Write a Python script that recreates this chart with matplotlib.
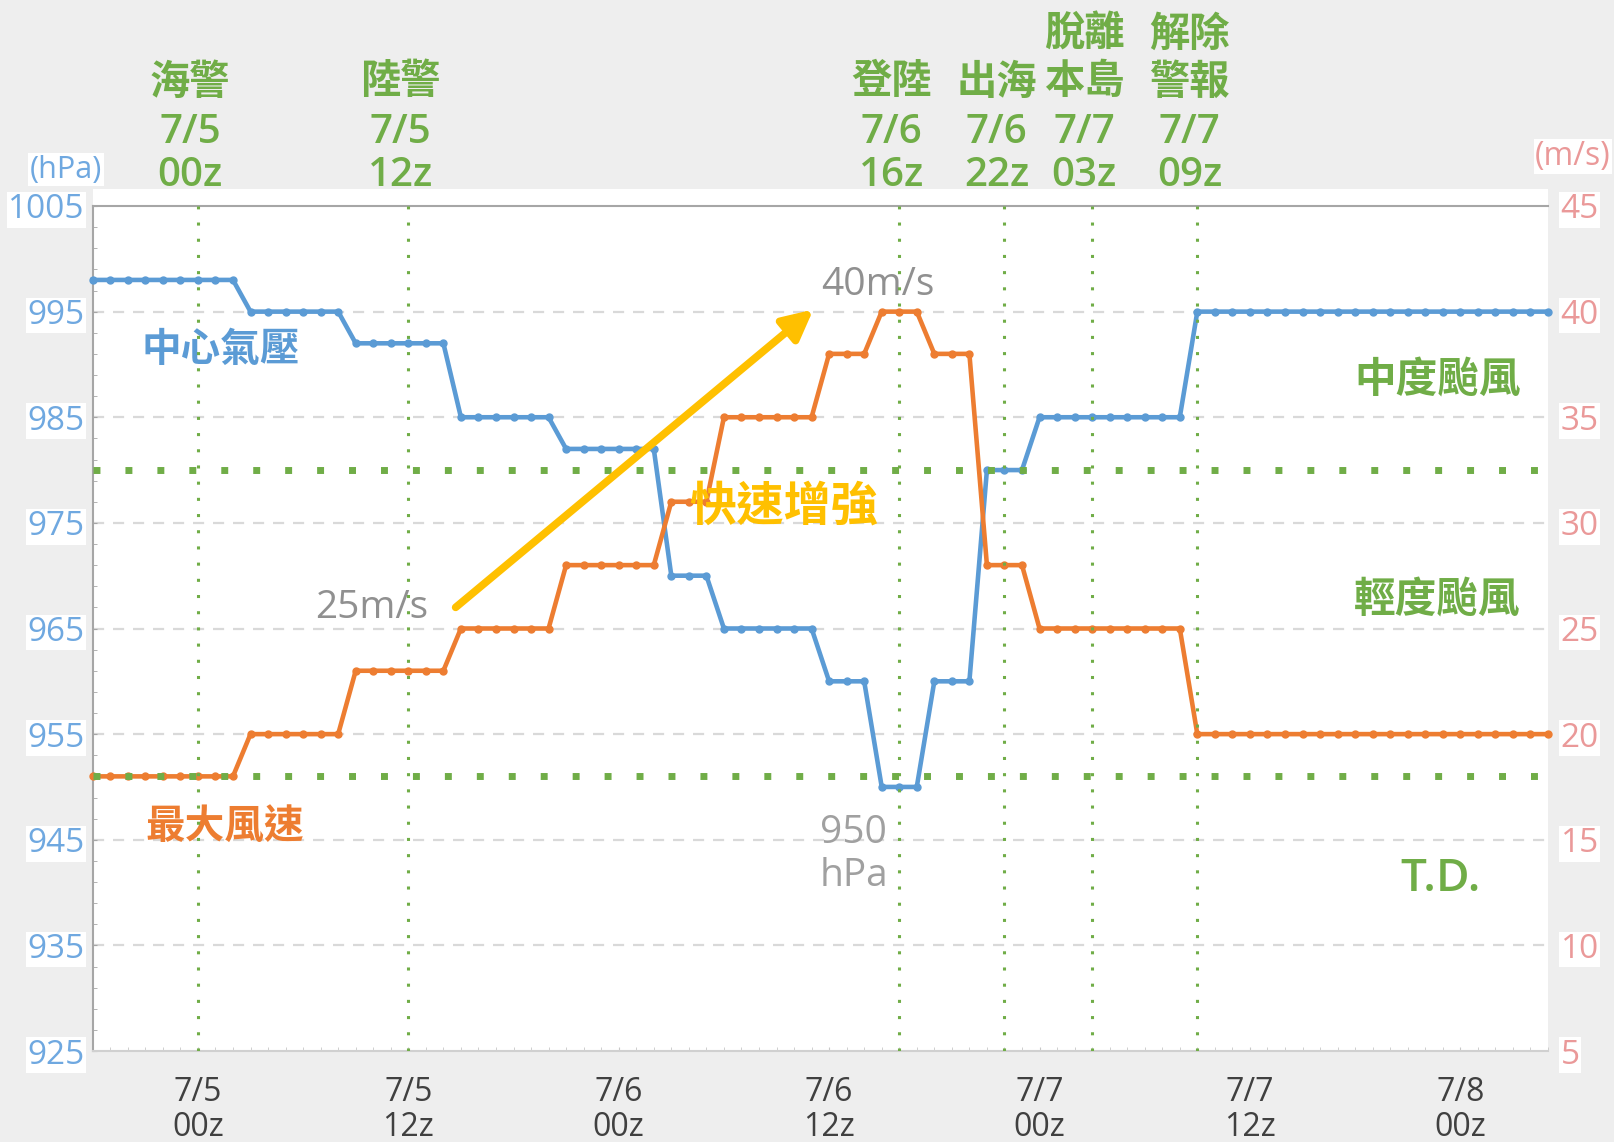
import numpy as np
import matplotlib
matplotlib.use('Agg')
import matplotlib.pyplot as plt
from matplotlib.patches import Rectangle
from matplotlib.transforms import blended_transform_factory

plt.rcParams['font.family'] = ['Open Sans', 'Noto Sans CJK TC', 'DejaVu Sans']

# hourly data, hour 0 = 7/4 18z
pressure = ([998] * 9 + [995] * 6 + [992] * 6 + [985] * 6 + [982] * 6 + [970] * 3 +
            [965] * 6 + [960] * 3 + [950] * 3 + [960] * 3 + [980] * 3 + [985] * 9 + [995] * 21)
wind = ([18] * 9 + [20] * 6 + [23] * 6 + [25] * 6 + [28] * 6 + [31] * 3 +
        [35] * 6 + [38] * 3 + [40] * 3 + [38] * 3 + [28] * 3 + [25] * 9 + [20] * 21)
hours = np.arange(len(pressure))

xtick_hours = [6, 18, 30, 42, 54, 66, 78]
xtick_labels = ['7/5\n00z', '7/5\n12z', '7/6\n00z', '7/6\n12z', '7/7\n00z', '7/7\n12z', '7/8\n00z']

event_hours = [6, 18, 46, 52, 57, 63]
event_names = ['海警', '陸警', '登陸', '出海', '脫離\n本島', '解除\n警報']
event_dates = ['7/5', '7/5', '7/6', '7/6', '7/7', '7/7']
event_times = ['00z', '12z', '16z', '22z', '03z', '09z']

ty_moderate = 32.5   # m/s, as drawn
ty_td = 18           # m/s, as drawn

BLUE = '#5b9bd5'
ORANGE = '#ed7d31'
GREEN = '#70ad47'
YELLOW = '#ffc000'
GRAY = '#909090'
PINK = '#ea9999'
LBLUE = '#6fa8e0'

W, H = 1615, 1142
fig = plt.figure(figsize=(W / 100, H / 100), dpi=100, facecolor='#eeeeee')
l, r, t, b = 92.7 / W, 1548 / W, 1 - 206 / H, 1 - 1051 / H
fig.patches.append(Rectangle((l, b), r - l, (1051 - 189) / H, transform=fig.transFigure,
                             facecolor='white', edgecolor='none', zorder=-1))
ax = fig.add_axes([l, b, r - l, t - b])
ax.set_facecolor('white')
ax2 = ax.twinx()

ax.set_xlim(0, 83)
ax.set_ylim(925, 1005)
ax2.set_ylim(5, 45)

ax.plot(hours, pressure, color=BLUE, lw=3.3, marker='o', ms=5, clip_on=False, zorder=3)
ax2.plot(hours, wind, color=ORANGE, lw=3.3, marker='o', ms=5, clip_on=False, zorder=3)

# grid
ax.set_yticks(np.arange(925, 1006, 10))
ax.set_yticks(np.arange(925, 1006, 2), minor=True)
for v in np.arange(935, 1000, 10):
    ax.axhline(v, color='#d9d9d9', lw=1.6, dashes=(5, 4), zorder=1)
ax2.set_yticks(np.arange(5, 46, 5))

ax.set_xticks(xtick_hours)
ax.set_xticklabels(xtick_labels)
ax.set_xticks(hours, minor=True)

ax.tick_params(axis='x', which='both', direction='in', length=3, color='#c8c8c8',
               labelsize=23, labelcolor='#404040', pad=18)
ax.tick_params(axis='y', which='both', direction='in', length=3, color='#a6a6a6',
               labelsize=24, labelcolor=LBLUE, pad=6)
ax2.tick_params(axis='y', length=0, labelsize=24, labelcolor=PINK, pad=9)
for lab in ax.get_xticklabels():
    lab.set_linespacing(1.08)

for tk in ax.yaxis.get_major_ticks():
    tk.label1.set_bbox(dict(facecolor='white', edgecolor='none', pad=1))
for tk in ax2.yaxis.get_major_ticks():
    tk.label2.set_bbox(dict(facecolor='white', edgecolor='none', pad=1))

for s in ['top', 'left']:
    ax.spines[s].set_color('#a6a6a6')
    ax.spines[s].set_linewidth(1.5)
ax.spines['bottom'].set_color('#d0d0d0')
ax.spines['bottom'].set_linewidth(1.5)
ax.spines['right'].set_visible(False)
for s in ax2.spines.values():
    s.set_visible(False)

# typhoon strength thresholds
for v in [ty_moderate, ty_td]:
    ax2.axhline(v, color=GREEN, lw=5, linestyle=(0, (1, 3.6)), dash_capstyle='butt', zorder=4)

# event lines and labels
trans = blended_transform_factory(ax.transData, ax.transAxes)
for h, name, d, tm in zip(event_hours, event_names, event_dates, event_times):
    ax2.axvline(h, color=GREEN, lw=2.2, linestyle=(0, (1, 4.3)), dash_capstyle='butt', zorder=4)
    xc = h - 0.45
    kw = dict(transform=trans, ha='center', va='center', color=GREEN, fontsize=29,
              fontweight='semibold', clip_on=False)
    ax.text(xc, 1.036, tm, **kw)
    ax.text(xc, 1.086, d, **kw)
    rows = name.split('\n')
    ax.text(xc, 1.145, rows[-1], **kw)
    if len(rows) > 1:
        ax.text(xc, 1.202, rows[0], **kw)

# axis unit labels
fig.text(64 * 1.03 / W, 1 - 165 * 1.03 / H, '(hPa)', color=LBLUE, fontsize=22,
         ha='center', va='center', bbox=dict(facecolor='white', edgecolor='none', pad=1))
fig.text(1527 * 1.03 / W, 1 - 152 * 1.03 / H, '(m/s)', color=PINK, fontsize=23,
         ha='center', va='center', bbox=dict(facecolor='white', edgecolor='none', pad=1))

# annotations
ax.text(7.3, 991.3, '中心氣壓', color=BLUE, fontsize=28.5, fontweight='semibold', ha='center', va='center')
ax.text(7.5, 946.1, '最大風速', color=ORANGE, fontsize=28.5, fontweight='semibold', ha='center', va='center')
ax.text(15.9, 966.9, '25m/s', color=GRAY, fontsize=28, ha='center', va='center')
ax.text(44.8, 997.5, '40m/s', color=GRAY, fontsize=28, ha='center', va='center', zorder=6)
ax.text(43.4, 943.6, '950\nhPa', color='#a0a0a0', fontsize=28, ha='center', va='center',
        linespacing=1.15)
ax2.text(39.4, 30.7, '快速增強', color=YELLOW, fontsize=34, fontweight='bold', ha='center', va='center')
ax2.text(76.7, 36.7, '中度颱風', color=GREEN, fontsize=30, fontweight='semibold', ha='center', va='center')
ax2.text(76.7, 26.3, '輕度颱風', color=GREEN, fontsize=30, fontweight='semibold', ha='center', va='center')
ax2.text(76.9, 13.1, 'T.D.', color=GREEN, fontsize=33, fontweight='semibold', ha='center', va='center')
ax2.annotate('', xy=(41.1, 40.1), xytext=(20.7, 26.0),
             arrowprops=dict(arrowstyle='-|>', color=YELLOW, lw=5.5, mutation_scale=45,
                             shrinkA=0, shrinkB=0), zorder=6)

fig.savefig('out.png', dpi=100, facecolor=fig.get_facecolor())
